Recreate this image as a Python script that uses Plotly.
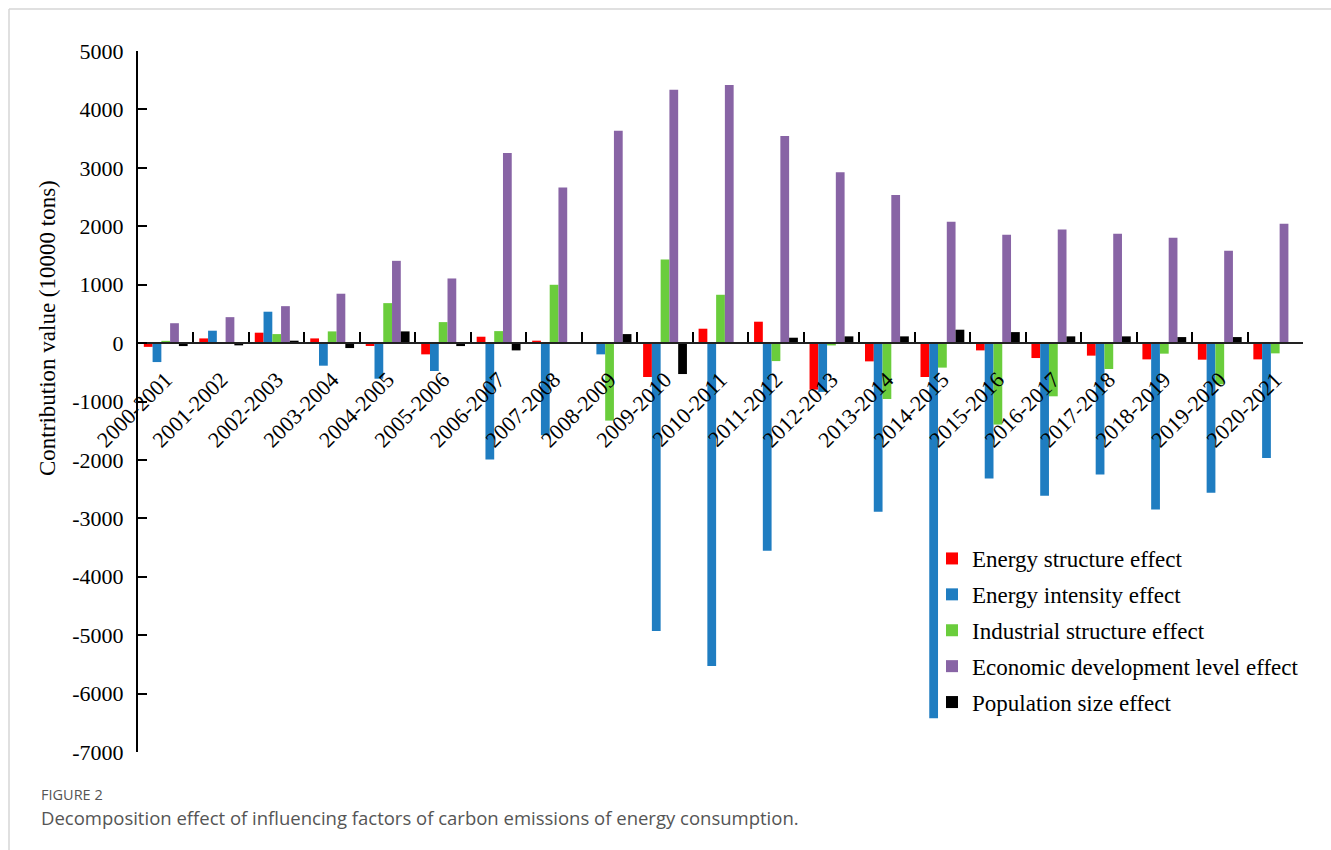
import plotly.graph_objects as go

categories = ["2000-2001", "2001-2002", "2002-2003", "2003-2004", "2004-2005", "2005-2006",
              "2006-2007", "2007-2008", "2008-2009", "2009-2010", "2010-2011", "2011-2012",
              "2012-2013", "2013-2014", "2014-2015", "2015-2016", "2016-2017", "2017-2018",
              "2018-2019", "2019-2020", "2020-2021"]

energy_structure = [-65, 80, 178, 80, -50, -193, 109, 41, 0, -581, 246, 366, -797, -313,
                    -581, -125, -256, -215, -279, -284, -279]
energy_intensity = [-325, 212, 537, -387, -610, -478, -1993, -1578, -193, -4928, -5527, -3556,
                    -835, -2889, -6421, -2318, -2615, -2250, -2848, -2564, -1966]
industrial_structure = [38, 15, 154, 200, 684, 359, 205, 998, -1327, 1431, 827, -308,
                        -40, -957, -420, -1395, -911, -444, -181, -706, -176]
economic_development = [340, 444, 632, 845, 1408, 1106, 3255, 2662, 3636, 4337, 4417, 3545,
                        2923, 2536, 2075, 1853, 1944, 1870, 1802, 1579, 2041]
population_size = [-51, -39, 41, -85, 200, -51, -125, 10, 154, -530, 15, 92,
                   115, 115, 229, 188, 115, 115, 103, 103, 10]

series_names = ["Energy structure effect", "Energy intensity effect", "Industrial structure effect",
                "Economic development level effect", "Population size effect"]
series_values = [energy_structure, energy_intensity, industrial_structure,
                 economic_development, population_size]
series_colors = ["#FF0000", "#1F7DC1", "#6ACD3C", "#8864A5", "#000000"]

y_ticks = [5000, 4000, 3000, 2000, 1000, 0, -1000, -2000, -3000, -4000, -5000, -6000, -7000]

W, H = 1331, 850
ML, MR, MT, MB = 138, 28, 51, 98
PW, PH = W - ML - MR, H - MT - MB


def px_x(p):
    return (p - ML) / PW


def px_y(p):
    return (H - MB - p) / PH


SERIF = "Liberation Serif"

fig = go.Figure()
for i, (name, vals, col) in enumerate(zip(series_names, series_values, series_colors)):
    fig.add_trace(go.Bar(x=categories, y=vals, name=name, marker_color=col,
                         marker_line_width=0, legendgroup=f"g{i}"))

fig.update_layout(
    width=W, height=H,
    margin=dict(l=ML, r=MR, t=MT, b=MB),
    paper_bgcolor="white", plot_bgcolor="white",
    barmode="group", bargap=0.21, bargroupgap=0,
    font=dict(family=SERIF, size=22, color="black"),
    showlegend=True,
    legend=dict(x=px_x(932), y=px_y(537), xanchor="left", yanchor="top",
                font=dict(family=SERIF, size=23, color="black"),
                traceorder="grouped", tracegroupgap=3, bgcolor="rgba(0,0,0,0)",
                itemwidth=30),
    xaxis=dict(type="category", anchor="free", position=7 / 12,
               showline=True, linecolor="#222222", linewidth=2,
               ticks="inside", tickson="boundaries", ticklen=10, tickwidth=2, tickcolor="black",
               tickangle=-45, ticklabelstandoff=14, showgrid=False,
               tickfont=dict(family=SERIF, size=22, color="black"),
               range=[-0.5, len(categories) - 0.5]),
    yaxis=dict(range=[-7000, 5000], tickvals=y_ticks, ticktext=[str(v) for v in y_ticks],
               showline=True, linecolor="black", linewidth=2,
               ticks="inside", ticklen=9, tickwidth=2, tickcolor="black",
               showgrid=False, zeroline=False, ticklabelstandoff=8,
               tickfont=dict(family=SERIF, size=22, color="black")),
)

fig.add_annotation(text="Contribution value (10000 tons)", xref="paper", yref="paper",
                   x=px_x(48), y=px_y(328), textangle=-90, showarrow=False,
                   xanchor="center", yanchor="middle",
                   font=dict(family=SERIF, size=23, color="black"))

fig.add_annotation(text="FIGURE 2", xref="paper", yref="paper", x=px_x(39), y=px_y(794),
                   xanchor="left", yanchor="middle", showarrow=False,
                   font=dict(family="Open Sans", size=14.5, color="#555555"))
fig.add_annotation(text="Decomposition effect of influencing factors of carbon emissions of energy consumption.",
                   xref="paper", yref="paper", x=px_x(39), y=px_y(817),
                   xanchor="left", yanchor="middle", showarrow=False,
                   font=dict(family="Open Sans", size=18.5, color="#555555"))

# light frame around the figure panel
fig.add_shape(type="line", xref="paper", yref="paper", x0=px_x(9), x1=px_x(W + 5),
              y0=px_y(9), y1=px_y(9), line=dict(color="#D6D6D6", width=1.5))
fig.add_shape(type="line", xref="paper", yref="paper", x0=px_x(9), x1=px_x(9),
              y0=px_y(9), y1=px_y(H + 5), line=dict(color="#D6D6D6", width=1.5))

fig.write_html("out.html", config={"displayModeBar": False},
               post_script="document.body.style.margin='0';")
